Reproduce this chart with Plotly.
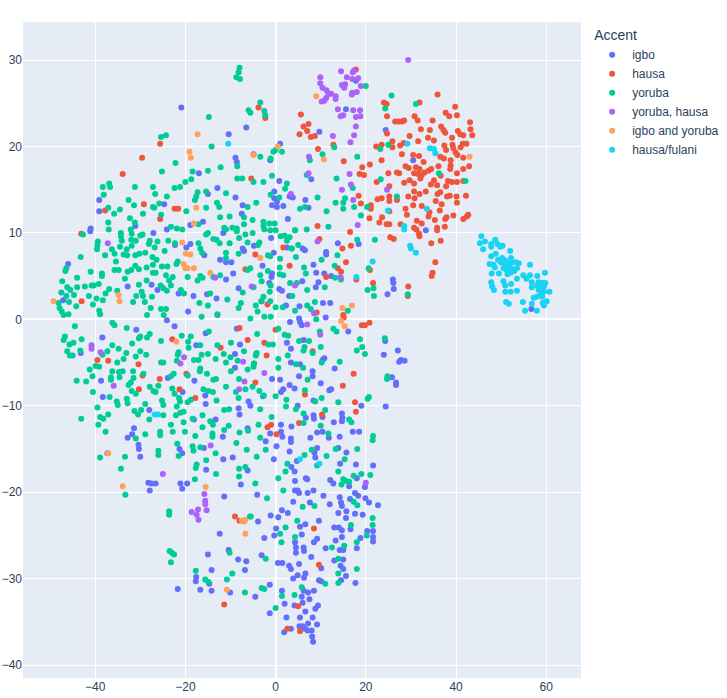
import plotly.graph_objects as go

accents = ['igbo', 'hausa', 'yoruba', 'yoruba, hausa', 'igbo and yoruba', 'hausa/fulani']
colors = ['#636efa', '#EF553B', '#00cc96', '#ab63fa', '#FFA15A', '#19d3f3']

# values, (x, y)
igbo = [
(-20.9,24.5),(-10.4,21.4),(-6.5,22.2),(1,20.3),(-8.9,18.7),(-8.6,18.2),(-1.2,18.4),(-4.9,19.1),(-17,16.9),(0.8,16),
(-12.9,15.2),(-0.3,14.8),(-15,14.5),(-8.9,14.1),(3.1,14.2),(-0.3,14),(0.3,13.6),(-39.1,13.8),(-39.1,12.5),(-24.7,13.3),
(-7.3,13.2),(-0.8,13.2),(0.3,13),(1.7,13.1),(-7.5,12.2),(2.7,11.6),(-16.1,11.3),(-18.9,10.9),(-31.1,10.8),(-41,10.5),
(-41.1,10.2),(-24.1,10.4),(-27.1,10),(-11.6,10),(-1,9.4),(-18.9,8.7),(-22.3,8.6),(-19.8,8.3),(-4.8,8.5),(-7.3,8.2),
(-7,7.9),(-15.8,7.4),(-0.4,7.7),(2.5,8.3),(-12.3,6.9),(-11,6.6),(-9.8,6.6),(-2.9,6.2),(-46,6.4),(-0.8,5.3),
(-0.9,4.9),(-9.4,5.3),(-11,4.6),(-32.8,3.8),(-27.5,4),(-26.2,3.4),(-21.5,3),(-18.2,2.7),(-15.2,2.9),(-13.1,2.4),
(-8.2,3.6),(-1.4,4.2),(0.8,3.5),(1.4,3.3),(3,2.7),(-3.1,2.1),(2.3,1.6),(-47.1,2.2),(-19.4,0.9),(-12.9,0.5),
(-24.1,-0.1),(17.8,27.6),(15.6,24.3),(24.4,21.9),(9.7,21.7),(30.5,18.4),(33.3,10.3),(7.9,16.2),(3.8,14.1),(6.6,13.8),
(7.3,12.9),(13.8,8.8),(18.4,8.7),(11.2,7.8),(11.2,7.5),(6,8.2),(6.5,8),(8.4,6.3),(9,5.4),(10.8,5.3),
(12.3,5),(9.5,4.3),(8.9,3.7),(5.9,4.4),(26,4.6),(26.1,4.2),(26.2,3.5),(24.8,2.9),(10.5,1.9),(12.1,1.9),
(5.3,1.5),(11.1,0.2),(56.7,1.2),(5.2,0.1),
(-38.4,-2.1),(-43.2,-3.9),(-30.9,-1.2),(-22.4,-0.8),(-15.5,-1.6),(-17.6,-3),(-7.9,-2.9),(-8.6,-1.1),(-9,-4),(-9,-5.6),
(-23.9,-6.8),(-18,-7.1),(-38.7,-7.1),(-20.6,-8.4),(-15.6,-8.8),(-15.5,-9.8),(-38.3,-9),(-6,-9.5),(-5.6,-10),(-8.2,-10.3),
(-8,-11),(-28,-10.5),(-13.3,-11.6),(-18.1,-11.6),(-31.4,-12.6),(-31.8,-13.3),(-32.8,-13.7),(-30.4,-14.5),(-30.3,-15),(-30,-15.9),
(-21.3,-15),(-20.7,-15.5),(-15.9,-14.9),(-11.7,-13.6),(-6.2,-12.6),(-11.6,-16.2),(-9.5,-16),(-15.4,-17.4),(-7.7,-19.1),(-6.2,-17.5),
(-28.2,-18.9),(-27.5,-19),(-26.6,-19),(-27.9,-19.8),(-21.1,-19),(-19.6,-19),(-20.7,-19.6),(-11.4,-20.5),(-12.4,-24.8),(-15,-27.2),
(-10.4,-26.7),(-8.3,-27.8),(-6.5,-28),(-6.8,-29),(-14.2,-29),(-17.6,-29.8),(-17.7,-30.3),(-14.7,-30.6),(-21.7,-31.2),(-16.7,-31.3),
(-14.2,-31.4),(-10.1,-31.6),
(3.2,-0.3),(5.4,-0.3),(5.8,-0.7),(16.1,-1.4),(2.5,-2.7),(3.4,-3.4),(6.2,-2.4),(24,-4.1),(27.1,-3.6),(24.3,-2.5),
(27.4,-4.9),(27.8,-4.7),(28.6,-4.8),(25.8,-6.7),(26.7,-7.3),(26.7,-7.6),(13.1,-5.7),(10.8,-4.5),(10.4,-4.7),(8.2,-6),
(8.2,-6.6),(5.2,-6.6),(3.4,-5),(5.4,-5.2),(1,-7),(-0.8,-6.9),(10,-7.4),(3.1,-7.6),(4.2,-8),(11.9,-8.2),
(12.3,-8.1),(1.7,-8.1),(1.2,-8.4),(-2.8,-8.9),(8.4,-9.4),(19,-10),(24.4,-10.1),(4.9,-10),(6.7,-11.4),(8.4,-11.1),
(8.5,-11.5),(10.4,-11.3),(14.7,-10.9),(14.8,-11.4),(14.7,-11.8),(12.9,-11.9),(3.5,-12.4),(1.2,-12.2),(1.2,-13),(1.5,-13.6),
(-1.2,-13.2),(-2.2,-14.1),(3.4,-13.8),(3.4,-14.2),(0.2,-14.7),(7.7,-13.7),(9.2,-13.1),(10.4,-13),(11.8,-13.7),(14.2,-13.6),
(17.1,-13),(18.5,-13),(13.9,-14.9),(9.2,-14.9),(8.6,-15.4),(15.7,-15.4),(8.8,-16),(3.1,-15.3),(-0.4,-16.2),(4.7,-16.4),
(3.5,-17.1),(4.2,-17.6),(14.3,-16.7),(17.8,-16.8),(21.6,-16.9),(18,-18.4),(16.3,-19.3),(19.8,-19.4),(12.1,-18.6),(12.8,-19),
(6.7,-18.4),(7,-18.5),(4.3,-18.7),(4.3,-19.8),(4.9,-19.8),(5.2,-20.1),(7.1,-20.1),(8.4,-19.8),(10.6,-20.4),(14.2,-20.6),
(17.6,-20.1),(18.3,-20.4),(16.5,-20.8),(19.9,-20.7),(20.7,-21.2),(22.7,-21.5),(14.5,-21.2),(14.7,-21.6),(12,-21.4),(7.6,-21.2),
(3.9,-21.1),(-4.1,-20.3),(-1.1,-22.7),(0.6,-22.9),(1.4,-22.1),(2.7,-22.4),(-3.9,-23.4),(9.6,-23.3),(13.9,-22.4),(15.7,-22.2),
(15.6,-23),(17.6,-22.5),(19.3,-22.6),(6.6,-23.7),(5.4,-24),(0.1,-24.2),(-0.3,-25),(-2.5,-25.3),(5.8,-24.9),(4.3,-25.8),
(4.5,-26.4),(4.5,-27),(6.2,-26.4),(6.3,-26.8),(8.5,-25.8),(9.2,-25.4),(13,-24.1),(14,-24.1),(14.7,-24.4),(16.6,-24.3),
(20.3,-24.5),(21.6,-24.5),(14.7,-25.2),(13.3,-25.6),(18.8,-25.3),(21.6,-25.2),(21.6,-25.7),(18,-26.5),(11.1,-26.5),(14.2,-26.7),
(15,-26.7),(-3.1,-27.3),(0.5,-28.2),(1.5,-28.2),(7.9,-27.5),(5.2,-28.3),(3,-28.5),(3.4,-28.9),(15,-27.8),(13,-27.9),
(10.1,-28.8),(14.4,-28.5),(15,-28.9),(4.9,-29.6),(3.9,-30),(6.6,-29.4),(6.3,-29.9),(9.6,-30.2),(10.1,-30.3),(15.6,-29.7),
(14.5,-30.2),(17.7,-30.5),(-1.3,-30.7),(1.4,-31.4),(6.2,-31.4),(7.2,-31.6),(8.5,-31.4),(5.8,-32.1),(7.5,-32.4),(-4.5,-32.1),
(2,-32.9),(6,-32.8),(4.2,-33.1),(9.4,-33.1),(8.8,-33.5),(-1.3,-34),(6.6,-33.8),(2.4,-34.5),(5.4,-34.5),(8.2,-34.5),
(7.2,-35.2),(9.2,-35.3),(5.3,-35.5),(6,-35.5),(6.5,-35.8),(8,-36),(7.1,-36),(3.4,-35.8),(1.9,-36.2),(8.1,-36.7),
(8.3,-37.3),
]

hausa = [
(35.9,26),(24,25.1),(24.6,24.9),(31.9,25.1),(39.8,24.6),(37.7,23.9),(38.5,23.5),(40.2,23.6),(24.7,23.5),(30.8,23.5),
(31.5,23),(26.5,22.9),(27.2,22.9),(28,22.9),(28.5,23),(34.8,23),(43.1,22.8),(43.2,22),(36.7,22.3),(37.2,21.9),
(37.6,21.6),(32.2,22),(34.2,21.9),(40.4,21.8),(40.9,21.4),(41.6,21.3),(43.6,21.3),(24.7,21.5),(29.7,21.2),(33.8,21),
(35.1,20.7),(39.1,21),(31.6,20.6),(25.9,20.6),(28.4,20.4),(27.6,20.1),(23.5,20.2),(22.3,20),(25.9,19.9),(37.4,20.1),
(39.2,20.2),(39.4,19.8),(42.3,20.3),(41.5,20.3),(41,19.9),(37.8,19.6),(39.9,19.3),(40.3,19),(28,19.1),(30.5,19),
(31.8,18.9),(36.5,18.8),(37.3,18.6),(41.6,18.7),(38.8,18.4),(23.5,18.4),(15.1,18.3),(32.8,18.2),(20.9,17.9),(28.8,17.7),
(29.5,17.5),(31.1,17.6),(36.1,17.7),(42.9,17.7),(19.2,17.6),(38.8,17.8),(38.7,17.4),(41.6,17.4),(34.5,17.4),(33.9,17.2),
(31.9,17.4),(30.7,16.9),(31.6,16.8),(32.4,16.7),(33,17),(32.1,16.3),(18.6,16.8),(19.6,16.7),(25,16.9),(26.9,17),
(27.4,16.9),(40.2,16.9),(36.6,16.6),(35.1,16.1),(29.7,16.1),(28.5,15.8),(30.7,15.7),(22.4,15.9),(38.2,16),(39.1,15.9),
(40.2,15.9),(41.6,16),(34.4,15.6),(35.8,15.5),(37.8,15.4),(25.2,15.4),(30.7,14.8),(33.3,14.8),(31.9,14.5),(35.9,14.5),
(36.5,14.7),(18.4,14.3),(29.4,14.2),(30.8,14),(38.6,14.3),(38,14.2),(40.1,14.2),(42.2,14.3),(25.2,14.2),(22.6,13.9),
(23.5,14),(25.2,13.7),(26.9,13.8),(35.5,13.7),(36.8,13.3),(40.2,13.5),(18.9,13.4),(21.1,13.2),(30.5,13.2),(32.4,13.1),
(28.8,12.8),(36.4,12.6),(21.1,12.8),(25.2,12.5),(34.1,12.4),(29.1,12.1),(39.4,12),(33.9,11.9),(37.9,11.8),(23.6,11.8),
(20.8,11.7),(42.7,12.1),(42.4,11.9),(41.6,11.6),(37.6,11.6),(35.3,11.5),(31.3,11.4),(32.4,11.1),(23,11.2),(24.6,11),
(25.2,11),(27.7,11),(30.7,10.6),(31.2,10.4),(31.8,9.9),(31.9,9.6),(35.8,10.6),(35.8,10.3),(37.5,10.7),(16.5,10.1),
(9.3,10.8),(25.4,9.5),(26.2,9.3),(34.5,8.8),(36.6,9.1),(16.7,8.5),(14.8,8.2),(9.7,9.3),(35.4,6.6),(34.8,5.4),
(34.6,5),(20.9,5.7),(21.6,4.2),(17.9,4.6),(13.8,5.9),(14.5,5.5),(11.2,4.9),(15.6,6.6),(29.4,3.8),(29.3,2.7),
(5.6,23.7),(7.3,22.6),(6.2,22.3),(7,21.8),(5.3,21.4),(7.8,21.1),(8.7,21.2),(9.4,19.7),(12.8,20.2),(17.8,28.9),
(9.1,0.8),(15,0.5),(15.1,0.2),(-3.8,24.5),(-2.3,23.3),(-25.6,20.3),(-29.6,18.7),(-33.9,16.8),(-5.4,16.3),(-29.2,13.3),
(-22.4,12.8),(-21.6,12.8),(-37.8,12.6),(-25.6,11.6),(-43.1,9.9),(1.7,8.3),(-4.5,7.5),(3.1,6.2),(-6.7,5.8),(-43,2.1),
(-1.8,1.7),(0,-1.2),(-2.5,-2.7),(-2,-4.2),(8.2,-3.7),(-4.5,-7.3),(6.5,-8.7),(14.9,-7.7),(17.3,-6.3),(17.6,-9.6),
(17.8,-10.7),(10.3,-11),(5.2,-12),(-1.8,-12.5),(-1,-12.2),(0.2,-13.3),(8.5,-24.2),(9.6,-28.4),(5,-33.2),(2.6,-35.8),
(5.4,-36.1),(19.1,-0.7),(19.8,-0.7),(20.8,-0.4),(-8,-1),(-22.9,-2.3),(-6.2,-2.4),(-12.2,-3.3),(-39.5,-4.7),(-37.1,-4.8),
(-30.4,-5.2),(-29.5,-6.5),(-19.8,-6.3),(-25.7,-6.9),(-21.3,-8.1),(-30.3,-8.1),(-17.8,-9.1),(-9,-22.8),(-8,-23.3),(-11.4,-33),
]

yoruba = [
(-8,29.1),(-8.2,28.6),(-8.7,28),(-7.9,27.8),(-3.4,25.1),(-6,24.2),(-5.6,23.9),(-2.5,24.1),(-2.3,23.6),(-14.8,23.4),
(-25.4,21.1),(-24.3,21.3),(-14.2,20),(1.4,19.4),(-0.5,19.4),(0,19.6),(-3.4,18.8),(-1.1,18.6),(-8.5,17.7),(-12.2,17.6),
(-22.2,18.1),(-15,17.2),(-18.4,17.1),(-25.2,17.1),(-8.5,16.3),(-7.4,16.3),(-0.8,16.6),(-4.9,15.9),(-2.7,15.9),(-18.7,16.2),
(-20,15.9),(-21.2,15.3),(-22.4,15.2),(-38.3,15.3),(-36.9,15.7),(-36.7,15.3),(-31.2,15.3),(-27.2,15.3),(-26.7,14.5),(-24.1,14.2),
(-38.1,14.4),(-32.6,13.8),(-31.4,13.2),(-37.1,12.9),(-34.5,12.7),(-35.8,12.2),(-27.2,13),(-26.9,12.9),(-25.8,13.4),(-29.4,12.2),
(-25.4,12.1),(-32.3,11.7),(-31.2,11.2),(-37.1,11.2),(-37,10.4),(-42.7,9.8),(-15.4,14.8),(-17.3,14.7),(-17.6,14.2),(-17.9,13.8),
(-11,14.6),(-13,13.5),(-12.5,13),(-15.4,12.9),(-19.8,12.5),(-12.3,11.8),(-10.2,11.9),(-4.3,13.5),(-6.2,13),(-1.1,14.4),
(0.8,14.1),(2.1,15.1),(2.5,15.7),(-7,11.8),(-5.1,11.5),(-2.7,11.3),(-1.4,11.1),(-0.2,11.1),(-7,11),(-2.7,10.8),
(-2.5,10.4),(-1.2,10.3),(0,10.3),(4.3,10.3),(-17.1,11),(-23.2,10.7),(-21.9,10.5),(-20.7,10.4),(-11.4,10.6),(-11,10.4),
(-9.6,10.6),(-8.6,10.5),(-8.6,10.2),(-15,10),(-15.4,9.8),(-13.8,9.3),(-13.1,9.2),(-12.4,8.8),(-10.2,8.8),(-8.1,9.4),
(-6.7,9.8),(-5.1,10),(-6.2,8.9),(-3.6,8.9),(-3.9,8.6),(1.1,9.6),(2,9.7),(2.5,9.1),(3.1,9.5),(3.5,8.2),
(-34.3,10),(-32.1,10.4),(-31.9,9.9),(-34.3,9.6),(-30,9.7),(-29.5,9.8),(-32,9.2),(-31,9.1),(-34.1,9.1),(-34.5,8.4),
(-39.4,9),(-39.5,8.6),(-39.6,8.1),(-36.3,8.1),(-35.7,7.6),(-37.8,7.4),(-43.2,7.2),(-33,8.1),(-31.9,8.5),(-27.9,9.1),
(-26.2,9),(-28.1,8.7),(-26.8,8.3),(-23.8,9.1),(-22.3,8.8),(-24.6,7.9),(-17.1,8.8),(-16.7,8.2),(-16.3,7.7),(-33.7,7.5),
(-32.9,7.4),(-31.1,7.4),(-30.2,7.6),(-28.9,7.7),(-27.3,7.2),(-26.4,6.9),(-35.4,6.7),(-21.7,6.7),(-22,6.4),(-25.2,6.1),
(-24,6.1),(-27.2,6.3),(-28.6,6),(-31.1,6.2),(-30.3,5.8),(-32,5.7),(-32.8,5.5),(-34.8,5.7),(-35.7,5.7),(-41,5.5),
(-46.6,5.6),(-46.4,5.9),(-44,4.8),(-38.5,5.3),(-38.5,5),(-27.2,5.4),(-26.6,5.4),(-24.3,5.1),(-22.8,4.9),(-23.6,4.5),
(-19.5,4.9),(-16.7,5),(-16.2,4.8),(-17.3,4.5),(-33.4,4.7),(-28.6,4.5),(-30.3,4),(-24.9,3.6),(-23.2,3.9),(-25.5,3.9),
(-47.3,4.4),(-46.2,3.7),(-44,3.7),(-42.3,3.8),(-40.8,3.9),(-40.3,3.9),(-39.2,4.1),(-47.5,3.1),(-45.5,3.4),(-44.7,2.8),
(-46.4,2.7),(-45.8,2),(-44.2,1.5),(-41.4,2.7),(-39.7,2.4),(-40.5,1.7),(-38.3,2.2),(-37.7,3),(-36.9,3.5),(-35.1,3.3),
(-48.1,1.9),(-47.9,1.3),(-47.4,0.9),(-47,0.5),(-45.9,0.6),(-39.1,1),(-38.9,0.6),(-29.7,3.2),(-30.9,2.7),(-29.4,2.7),
(-31.6,2),(-29,2),(-27.4,2.6),(-27.7,1.3),(-25.4,1.2),(-24.3,1.2),(-28.5,0.5),(-24.8,0.5),(-24.1,3.3),(-21,3.4),
(-20.3,3),(-16.9,1.9),(-15,1.6),(-14.5,3),(-10.7,2.3),(-8.2,1.3),(-7.7,1.9),(-7.3,3.1),(-12.3,5.1),(-13.8,4.9),
(-3.1,4.4),(-3.4,5.1),(-1.7,5.6),(0.9,5.2),(1.7,5.1),(0.9,6),(1,7),(-1.7,7.4),(-1.2,7.3),(-8.2,7.6),
(-11,7.7),(-11,7.1),(-6.2,5.7),(-5.6,5.9),(-4.9,3.7),(-1.1,3.9),(-1.3,3.2),(3.2,4.2),(-2.7,2.6),(-3.2,2.1),
(-4.4,1.6),(-4,0.9),(0,1.4),(1.6,1.4),(-1.2,2.1),(-2.5,0.3),(-1.1,0.3),(-5.6,0.1),(-16.4,0.3),(-12.9,0.6),
(20,27),(25.7,25.9),(31.1,24.9),(24.3,24.4),(23.2,19.7),(25,20.2),(13,19.9),(10.4,19.1),(7.6,18.4),(18.1,18.8),
(6.9,16.7),(13.5,16.3),(23.3,16.2),(36.2,16.9),(42.1,16),(17.1,15.2),(26.9,14.2),(9.3,14.1),(13.3,13.5),(15,13.5),
(15.4,14),(15,12.8),(17.4,13),(20.3,13),(18.9,12),(11.3,12.5),(5.4,12.8),(6.5,13),(11.7,10.7),(6.9,10.4),
(4.3,10.3),(22,9.2),(18.1,9.2),(5,8.6),(3.6,8.2),(4.5,7.2),(10.2,6.9),(13.7,7.4),(6.3,6),(6.7,5.3),
(13.1,6.2),(20.6,5.9),(14.5,4.6),(13.2,4.8),(10.9,3.7),(7,3.4),(4.7,4.2),(3.7,2.7),(8.7,2),(7,1.6),
(7.8,1.2),(4.3,1),(16,1),(20.4,3.4),(21.7,3.6),(21.8,2.7),(29.3,2.9),(9,0),
(-44.5,-0.8),(-46.7,-2),(-47,-2.4),(-45.7,-2.9),(-44.8,-2.7),(-43,-2.3),(-46.2,-3.7),(-45.6,-4.2),(-45,-4.2),(-43.3,-3.6),
(-36.2,-3),(-34.8,-3.4),(-37.3,-3.7),(-38.4,-4.1),(-33.1,-3.9),(-31.8,-2.8),(-31,-4.3),(-30,-3.7),(-28.7,-4.1),(-30.3,-2.2),
(-30,-2),(-28.5,-2.1),(-27.9,-1.7),(-25.4,-2.5),(-36.2,-0.4),(-35.7,-0.7),(-33,-1),(-20.8,-1.9),(-18.8,-2),(-19.4,-2.6),
(-19.3,-3.3),(-21.5,-3.8),(-21.7,-4.1),(-21.9,-4.8),(-16.7,-3),(-15,-4),(-16.4,-4.1),(-18.1,-4.7),(-17.1,-4.7),(-13.3,-4.6),
(-14.8,-1.4),(-12.9,-3),(-11.5,-4),(-9.9,-2.7),(-11,-5),(-10,-4.4),(-8.4,-4.8),(-7,-3.7),(-4.2,-3.9),(-4.4,-4.2),
(-4.8,-5.1),(-4.9,-5.5),(-6.2,-5.8),(-9.9,-6),(-15.2,-6.3),(-16.7,-5.7),(-16.8,-6),(-22.6,-6.3),(-23.2,-6.6),(-24.9,-5),
(-25.4,-5),(-19.5,-6.5),(-13.8,-7),(-13.2,-6.9),(-11,-7.8),(-8.1,-6.9),(-41.2,-5.8),(-39.9,-5.4),(-39.1,-5.5),(-36.2,-6),
(-36.5,-6.7),(-36.5,-7),(-34.7,-6.1),(-33.9,-6),(-34.6,-6.7),(-35.1,-5),(-33.7,-4.6),(-31.6,-6),(-29.3,-6.3),(-31.5,-6.8),
(-32.1,-7.3),(-32.6,-7.6),(-40.6,-6.6),(-44.1,-7.1),(-42,-7.2),(-40.5,-8.4),(-36.8,-9),(-31.9,-8.3),(-31,-8.6),(-33,-9.2),
(-32.8,-9.7),(-27.9,-7.8),(-26,-7.7),(-27.1,-8.3),(-26.6,-8.4),(-22.9,-8),(-22.4,-8.6),(-21.4,-9.1),(-21.2,-9.5),(-24.9,-9.9),
(-18.8,-9.3),(-19.5,-9.6),(-16,-8.1),(-14.9,-8.3),(-13.9,-8.4),(-13.1,-9.4),(-8.8,-8.4),(-8.2,-9.1),(-6.7,-8.1),(-35.2,-9.5),
(-35,-9.9),(-28.9,-9.8),(-39.5,-10.2),(-31.3,-10.6),(-29.8,-10.5),(-30.5,-11),(-25.2,-9.4),(-24.9,-11.1),(-21.9,-10.1),(-22.1,-11.1),
(-21.1,-10.8),(-20.4,-10.7),(-16.2,-11.1),(-18.4,-11.5),(-11.4,-10.5),(-10.3,-10.4),(-38.9,-11.3),(-38.2,-11.5),(-37.1,-11),(-43.1,-11.5),
(-28,-11.6),(-20.4,-11.9),(-14.5,-11.8),(-13.9,-12.2),(-39.3,-12.2),(-37.7,-13),(-28.9,-13.3),(-25.6,-13),(-25.6,-13.4),(-22.8,-13),
(-23.2,-12.2),(-20.1,-13),(-16.2,-12.5),(-17.8,-13.5),(-14,-13.2),(-14,-13.6),(-10.4,-12.3),(-11.4,-12.8),(-8,-13.1),(-6.1,-12.9),
(-31,-13.8),(-8.7,-14.3),(-6.4,-15.1),(-21.8,-14.4),(-26,-15.2),(-26,-15.7),(-21.5,-15.8),(-18.4,-14.7),(-18.2,-15.2),(-16.7,-14.8),
(-13.3,-15.5),(-15.4,-16.3),(-38.9,-16),(-33.4,-15.9),(-34.3,-17.3),(-17.5,-16.8),(-17.7,-17.2),(-8.1,-17.3),(-6.7,-17.1),(-8.1,-18.2),
(-13.2,-17.9),(-17.9,-18.5),(-33.3,-20.3),(-23.6,-22.2),(-23.6,-22.6),(-23.5,-26.8),(-23,-27),(-22.5,-27.2),(-23.2,-28.1),(-10.2,-27),
(-17.7,-29.1),(-9.6,-29.4),(-10.8,-30.1),(-15.6,-30.1),(-14.9,-30.4),(-6.8,-31.6),(-5.7,-22.8),
(-4.1,-1.7),(0.6,-1.1),(2,-1.8),(2.8,-1.9),(-1.6,-2.9),(-0.6,-2.9),(-4.3,-4),(-4.8,-5.1),(0.6,-4.6),(0.6,-5.6),
(2.7,-4.2),(4.5,-5.2),(6.1,-5.6),(5.2,-2.5),(7.4,-2.5),(6.4,-3.2),(6.2,-3.6),(8.2,-3.9),(10,-3.2),(9.8,-1.4),
(12.8,-1.1),(13.5,-1.4),(10.2,-5),(14.2,-4.9),(18,-3.6),(18.7,-2.3),(19.2,-3.2),(19.8,-4),(24.2,-2.2),(24.8,-6.6),
(24.7,-6.9),(7.1,-7),(-5.1,-7.8),(-3.6,-8.3),(-2.6,-8.8),(0,-8.9),(2.4,-9.3),(2.3,-10.1),(4.5,-10.4),(6.5,-8.2),
(10.2,-9.1),(8.8,-9.5),(13.9,-9.6),(20.4,-9.2),(20.7,-9),(-3.4,-10.4),(6.2,-10.9),(11,-10.5),(-0.9,-11.3),(16.3,-11.6),
(16.8,-11.9),(6.2,-12),(10,-12.3),(-3.8,-12.2),(11.7,-13.2),(-3.4,-13.7),(21.6,-13.5),(21.5,-14),(-2.2,-15.1),(8,-15.1),
(13.3,-15),(18.1,-15),(11.3,-15.8),(15.3,-16.2),(6.4,-15.7),(-4.2,-15.9),(2.6,-16.7),(2.2,-17.6),(9.2,-16.9),(13.9,-17.6),
(0.6,-18.4),(-4.5,-19),(15,-18.5),(15.6,-18.7),(16.3,-18.8),(14.6,-19.1),(17.3,-18.1),(19,-17.9),(21,-18),(1.7,-19.8),
(-1.9,-20.7),(6,-21.7),(8.6,-21.6),(17.3,-21.1),(18.1,-21.5),(-5.5,-22.8),(4.8,-23.3),(21.5,-23),(21.5,-23.8),(16.7,-23.8),
(2.2,-24.1),(1,-24.8),(4.3,-25.2),(1.3,-25.8),(20.2,-25),(18,-25.8),(15.2,-26.2),(12.5,-26.4),(-2.2,-27.7),(13.9,-27.7),
(18,-28.9),(13.9,-29.4),(11,-30.6),(13.9,-30.5),(5.8,-31),(-3.1,-31.1),(-2.5,-31.2),(1.4,-32),(4.2,-31.9),(0,-33.4),
]

yoruba_hausa = [
(29.4,30),(14.5,28.7),(17.4,28.8),(17.1,28.6),(9.9,28),(15.8,28),(17,27.8),(18.3,27.9),(9.9,27.3),(10.4,26.8),
(14.7,27.1),(15.4,27.2),(15.2,26.8),(18.9,27),(11.3,26.5),(17,26.2),(18,26.3),(16.9,26),(11.7,26),(12.3,26.1),
(11.2,25.6),(13.3,25.8),(13.3,25.5),(10.8,25.3),(10.2,25.2),(13.8,24.3),(17.2,24.2),(18.7,24.2),(15,23.6),(14.4,23.5),
(17.8,23.4),(18.8,23.5),(17.8,22.3),(17.4,21.3),(12.7,21.2),(16.6,20.5),(7.4,18.8),(7.3,16.9),(16.4,16.8),(16.7,15.6),
(14.7,15),(24.7,15),(17.2,13.8),(3.4,14.5),(18.2,10.9),(9.3,9),(4.3,3.9),(14.4,4.9),(8.5,0.7),(-37.2,8.8),
(-13.4,4.8),(-5.3,3.8),(-40.8,-3),(-40.8,-3.4),(-38.8,-3.8),(-20.3,-4.4),(-21.1,-5.1),(-7.2,-4.9),(-6.9,-7.2),(-8.1,-8.1),
(-35.9,-7.7),(-14.4,-14.6),(-37.3,-15.5),(-25,-17.9),(-15.8,-20.2),(-15.6,-21),(-15.6,-21.4),(-15.3,-22.1),(-17.2,-22),(-18.6,-22.3),
(-17.5,-22.6),(-17.1,-23.2),(7,-0.6),(9.9,-1.8),(-2.5,-6.2),(20,-18.9),
]

igbo_yoruba = [
(-17.3,21.4),(0.5,20),(-19.1,19.4),(-18.8,18.7),(-4.9,19),(-17.6,12.9),(-18.1,11.1),(-20.7,8.9),(-19.9,7.6),(-18.9,7.5),
(-3.4,7.1),(-20.4,6.4),(-20,5.9),(-19.5,5.9),(-18.1,5.9),(-14.5,5.4),(-34.8,2.8),(-34.6,2.1),(-49.2,2.1),(9,25.8),
(10.7,18.5),(43,18.8),(14.8,1.3),(16.9,1.6),(-22,-2.6),(-37.1,-15.5),(-33.9,-19.3),(-15.5,-19.4),(-7.5,-23.3),(-6.7,-23.2),
(-7,-23.4),(-6.7,-24.8),(-10.8,-31.3),(14.5,-0.2),(15.3,-0.8),
]

hausa_fulani = [
(-10.5,20.3),(29.2,20.3),(34.2,19.8),(35.1,19.7),(35.4,19.2),(24.9,12.6),(33.5,12.8),(28.5,10.8),(28.5,10.4),(29.8,8.5),
(30,8.2),(31.1,7.7),(21.5,6.7),(17.9,4.9),(45.6,9.6),(45.3,8.8),(46.4,9),(46,8.1),(47.8,8.7),(47.8,8.4),
(48.7,9.2),(49.2,8.7),(50.3,8.5),(49.8,8.4),(52,7.9),(47.8,7.3),(48.8,7.6),(49.3,6.9),(50.2,7.1),(49.9,6.6),
(50.9,6.8),(52.2,7.1),(51.4,6.5),(52.4,6.6),(53.2,6.6),(53.9,6.5),(51.8,6.2),(50.8,6.2),(47.4,6.4),(48.3,6.3),
(48.6,6),(50.5,5.9),(51.2,5.7),(52.2,5.9),(53.5,5.9),(52.9,5.6),(52.1,5.4),(51.4,5.2),(49.5,5.3),(47.9,5.3),
(56.4,6.3),(59.7,5.4),(54.9,5.1),(56.4,5.1),(58,5),(55.6,4.7),(53.5,4.7),(50.5,4.4),(50.9,3.9),(52.2,4.1),
(47.8,4.3),(48,3.8),(48.4,3.4),(56.8,4.3),(58.3,4.3),(59.2,4.2),(59.8,4.2),(56.8,3.7),(58,3.9),(58.8,3.7),
(59.5,3.8),(58.3,3.4),(59.2,3.3),(60.7,3.2),(59.5,3.2),(50.9,3.2),(52.1,3.2),(53.5,3.3),(58.8,2.9),(57.9,2.6),
(57.2,2.5),(59.1,2.6),(51.1,2),(51.7,1.8),(54.8,2),(56.8,1.8),(59.2,1.9),(60.1,2.1),(59.5,1.6),(55.3,1),
(57.9,1),(-26.8,-11),(-26.1,-11),(5.4,-16.2),(9.7,-16.7),
]

series = [igbo, hausa, yoruba, yoruba_hausa, igbo_yoruba, hausa_fulani]

fig = go.Figure()
for name, pts, c in zip(accents, series, colors):
    fig.add_trace(go.Scatter(x=[p[0] for p in pts], y=[p[1] for p in pts], mode='markers', name=name,
                             marker=dict(color=c, size=6)))

fig.update_layout(width=727, height=698, margin=dict(l=23, r=146, t=22, b=20, autoexpand=False),
                  font=dict(family='Liberation Sans'),
                  legend=dict(title=dict(text='Accent'), tracegroupgap=0),
                  xaxis=dict(automargin=False, range=[-56, 67.7], tickvals=[-40, -20, 0, 20, 40, 60]),
                  yaxis=dict(automargin=False, range=[-41.5, 34.4], tickvals=[-40, -30, -20, -10, 0, 10, 20, 30]))
# the page's default 8px body margin would push the plot off the window
fig.write_html("out.html", config=dict(displayModeBar=False), post_script="document.body.style.margin='0';")
